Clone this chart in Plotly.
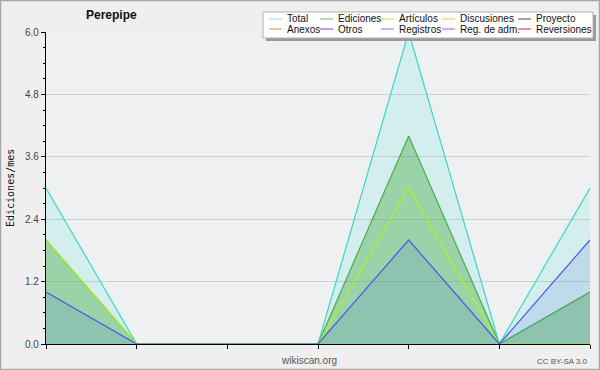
import plotly.graph_objects as go

# ---- data ----
x_idx = [0, 1, 2, 3, 4, 5, 6]
total = [3, 0, 0, 0, 6, 0, 3]
ediciones = [2, 0, 0, 0, 4, 0, 1]
articulos = [2, 0, 0, 0, 3, 0, 0]
registros = [1, 0, 0, 0, 2, 0, 2]

legend_names = ["Total", "Ediciones", "Artículos", "Discusiones", "Proyecto",
                "Anexos", "Otros", "Registros", "Reg. de adm.", "Reversiones"]
legend_colors = ["#a6e4e0", "#86c68a", "#c4ef6a", "#f2d26a", "#666666",
                 "#f29a5a", "#9a5ee6", "#8894ee", "#d46ae2", "#e24848"]

y_ticks = [0.0, 1.2, 2.4, 3.6, 4.8, 6.0]

W, H = 600, 370
L, R, T, B = 46, 590, 32, 344


def px(x):
    return (x - L) / (R - L)


def py(y):
    return (B - y) / (B - T)


fig = go.Figure()

series = [
    ("Total", total, "#3ad8c8", "rgba(64,224,208,0.15)"),
    ("Ediciones", ediciones, "#48ad4c", "rgba(70,170,65,0.40)"),
    ("Artículos", articulos, "#b2f21e", "rgba(0,0,0,0)"),
    ("Registros", registros, "#4a58ee", "rgba(65,105,225,0.14)"),
]
for name, vals, col, fill in series:
    fig.add_trace(go.Scatter(
        x=x_idx, y=vals, mode="lines", name=name,
        line=dict(color=col, width=1.2),
        fill="tozeroy", fillcolor=fill, showlegend=False,
    ))

shapes = []
annotations = []

# outer border
shapes.append(dict(type="rect", xref="paper", yref="paper",
                   x0=px(0.5), x1=px(W - 0.5), y0=py(H - 0.5), y1=py(0.5),
                   line=dict(color="#a8a8a8", width=1.5), layer="below"))

# legend box with shadow
lx0, lx1, ly0, ly1 = 263, 593, 12, 38
shapes.append(dict(type="rect", xref="paper", yref="paper",
                   x0=px(lx0 + 3), x1=px(lx1 + 3), y0=py(ly1 + 3), y1=py(ly0 + 3),
                   fillcolor="#9a9a9a", line=dict(width=0)))
shapes.append(dict(type="rect", xref="paper", yref="paper",
                   x0=px(lx0), x1=px(lx1), y0=py(ly1), y1=py(ly0),
                   fillcolor="#ffffff", line=dict(color="#b0b0b0", width=1)))

col_text_x = [285, 336, 397, 458, 534]
row_y = [19, 29]
for i, (nm, c) in enumerate(zip(legend_names, legend_colors)):
    r, k = divmod(i, 5)
    tx = col_text_x[k]
    yy = row_y[r]
    shapes.append(dict(type="line", xref="paper", yref="paper",
                       x0=px(tx - 16), x1=px(tx - 3), y0=py(yy), y1=py(yy),
                       line=dict(color=c, width=1.2)))
    annotations.append(dict(text=nm, xref="paper", yref="paper",
                            x=px(tx), y=py(yy), xanchor="left", yanchor="middle",
                            showarrow=False,
                            font=dict(family="Liberation Sans", size=10, color="#111111")))

# title
annotations.append(dict(text="<b>Perepipe</b>", xref="paper", yref="paper",
                        x=px(111), y=py(15), xanchor="center", yanchor="middle",
                        showarrow=False,
                        font=dict(family="Liberation Sans", size=12, color="#111111")))
# y title
annotations.append(dict(text="Ediciones/mes", xref="paper", yref="paper",
                        x=px(10), y=py(188), xanchor="center", yanchor="middle",
                        textangle=-90, showarrow=False,
                        font=dict(family="DejaVu Sans Mono", size=10, color="#111111")))
# footer
annotations.append(dict(text="wikiscan.org", xref="paper", yref="paper",
                        x=px(309), y=py(360), xanchor="center", yanchor="middle",
                        showarrow=False,
                        font=dict(family="Liberation Sans", size=10, color="#555555")))
annotations.append(dict(text="CC BY-SA 3.0", xref="paper", yref="paper",
                        x=px(590), y=py(361), xanchor="right", yanchor="middle",
                        showarrow=False,
                        font=dict(family="Liberation Sans", size=8, color="#555555")))

fig.update_layout(
    width=W, height=H,
    margin=dict(l=L, r=W - R, t=T, b=H - B),
    paper_bgcolor="#efefef",
    plot_bgcolor="#eef0f2",
    showlegend=False,
    shapes=shapes,
    annotations=annotations,
    xaxis=dict(range=[0, 6], tickvals=x_idx, showticklabels=False,
               ticks="outside", ticklen=4, tickcolor="#000", showgrid=False,
               zeroline=False, showline=True, linecolor="#000", linewidth=1.2,
               fixedrange=True),
    yaxis=dict(range=[0, 6], tickvals=y_ticks, tickformat=".1f",
               ticks="outside", ticklen=4, tickcolor="#000",
               showgrid=True, gridcolor="#cfcfcf", gridwidth=1,
               zeroline=False, showline=True, linecolor="#000", linewidth=1.2,
               minor=dict(dtick=0.3, ticks="outside", ticklen=2, tickcolor="#000",
                          showgrid=False),
               tickfont=dict(family="Liberation Sans", size=10, color="#444444"),
               fixedrange=True),
)

fig.write_html(
    "out.html",
    config={"displayModeBar": False},
    post_script="document.body.style.margin='0';document.body.style.overflow='hidden';",
)
